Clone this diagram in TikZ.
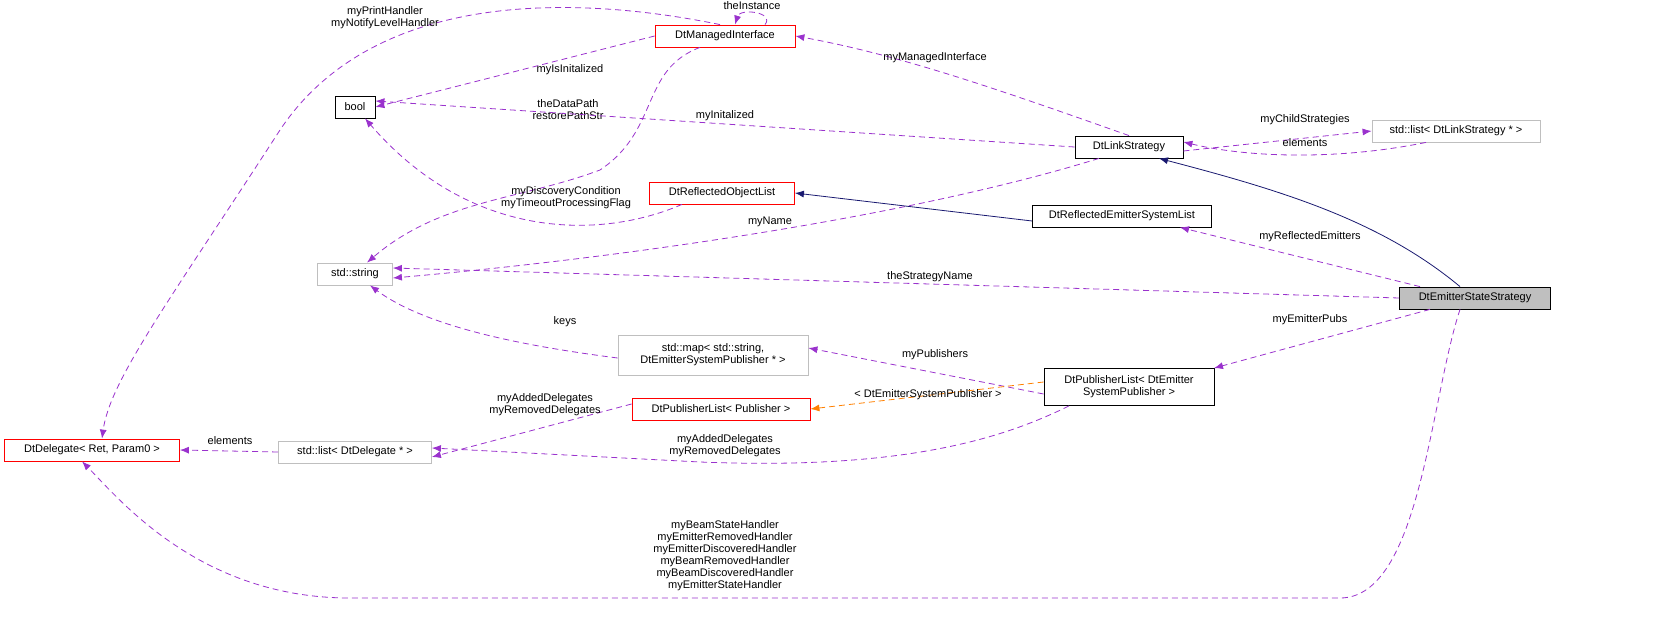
\documentclass[tikz,border=0pt]{standalone}
\usepackage{fontspec}
\setmainfont{Liberation Sans}
\usetikzlibrary{arrows.meta}
\definecolor{ep}{HTML}{9A32CD}
\definecolor{nv}{HTML}{191970}
\definecolor{gb}{HTML}{BFBFBF}
\begin{document}
\begin{tikzpicture}[x=1pt,y=-1pt,
  every node/.style={font=\fontsize{11}{12}\selectfont},
  box/.style={draw,line width=0.8pt,inner sep=2pt,minimum height=22pt,align=center},
  bk/.style={box,draw=black},
  rd/.style={box,draw=red},
  gr/.style={box,draw=gb},
  lb/.style={align=center,inner sep=0pt},
  use/.style={draw=ep,dashed,dash pattern=on 6pt off 4pt,line width=0.8pt,-{Latex[length=9pt,width=7pt]}},
  inh/.style={draw=nv,line width=0.8pt,-{Latex[length=9pt,width=7pt]}},
  tpl/.style={draw=orange,dashed,dash pattern=on 6pt off 4pt,line width=0.8pt,-{Latex[length=9pt,width=7pt]}}]
\useasboundingbox (0,0) rectangle (1672,644);
\node[rd,minimum width=140pt] (mi) at (725,36) {DtManagedInterface};
\node[bk,minimum width=40pt] (bool) at (355,107) {bool};
\node[bk,minimum width=108pt] (ls) at (1129,147) {DtLinkStrategy};
\node[gr,minimum width=168pt] (lls) at (1456,131) {std::list< DtLinkStrategy * >};
\node[rd,minimum width=145pt] (rol) at (722,193) {DtReflectedObjectList};
\node[bk,minimum width=179pt] (resl) at (1122,216) {DtReflectedEmitterSystemList};
\node[gr,minimum width=75pt] (str) at (355,274) {std::string};
\node[box,draw=black,fill=gb,minimum width=151pt] (ess) at (1475,298) {DtEmitterStateStrategy};
\node[gr,minimum width=190pt,minimum height=40pt] (map) at (713,355) {std::map< std::string,\\ DtEmitterSystemPublisher * >};
\node[bk,minimum width=170pt,minimum height=37pt] (pl) at (1129,387) {DtPublisherList< DtEmitter\\SystemPublisher >};
\node[rd,minimum width=178pt] (plp) at (721,409) {DtPublisherList< Publisher >};
\node[gr,minimum width=153pt] (ldd) at (355,452) {std::list< DtDelegate * >};
\node[rd,minimum width=175pt] (dd) at (92,450) {DtDelegate< Ret, Param0 >};

\draw[use] (ls.north) .. controls (1000,90) and (900,55) .. (mi.east);
\node[lb] at (935,58) {myManagedInterface};
\draw[use] ([xshift=40pt]mi.north) .. controls (775,12) and (740,8) .. ([xshift=10pt]mi.north);
\node[lb] at (752,6) {theInstance};
\draw[use] ([xshift=-5pt]mi.north) .. controls (600,0) and (380,-20) .. (280,130) .. controls (170,300) and (110,380) .. ([xshift=10pt]dd.north);
\node[lb] at (385,18) {myPrintHandler\\myNotifyLevelHandler};
\draw[use] (mi.west) -- (bool.east);
\node[lb] at (570,70) {myIsInitalized};
\draw[use] ([xshift=-25pt]mi.south) .. controls (640,70) and (660,130) .. (600,170) .. controls (520,200) and (440,200) .. ([xshift=12pt]str.north);
\node[lb] at (568,110) {theDataPath\\restorePathStr};
\draw[use] (ls.west) -- ([yshift=6pt]bool.east);
\node[lb] at (725,116) {myInitalized};
\draw[use] ([xshift=-40pt]rol.south) .. controls (600,240) and (470,240) .. ([xshift=10pt]bool.south);
\node[lb] at (566,198) {myDiscoveryCondition\\myTimeoutProcessingFlag};
\draw[use] ([xshift=-30pt]ls.south) .. controls (900,220) and (600,260) .. ([yshift=-4pt]str.east);
\node[lb] at (770,222) {myName};
\draw[use] ([yshift=-4pt]ls.east) -- (lls.west);
\node[lb] at (1305,120) {myChildStrategies};
\draw[use] ([xshift=-30pt]lls.south) .. controls (1340,160) and (1250,158) .. ([yshift=5pt]ls.east);
\node[lb] at (1305,143) {elements};
\draw[inh] ([xshift=-15pt]ess.north) .. controls (1380,220) and (1280,190) .. ([xshift=30pt]ls.south);
\draw[inh] ([yshift=-5pt]resl.west) -- (rol.east);
\draw[use] ([xshift=-55pt]ess.north) -- ([xshift=58pt]resl.south);
\node[lb] at (1310,237) {myReflectedEmitters};
\draw[use] (ess.west) -- ([yshift=6pt]str.east);
\node[lb] at (930,277) {theStrategyName};
\draw[use] ([xshift=-45pt]ess.south) -- ([xshift=85pt]pl.north);
\node[lb] at (1310,320) {myEmitterPubs};
\draw[use] ([xshift=-15pt]ess.south) .. controls (1430,400) and (1420,598) .. (1340,598) -- (350,598) .. controls (200,598) and (120,500) .. ([xshift=-10pt]dd.south);
\node[lb] at (725,556) {myBeamStateHandler\\myEmitterRemovedHandler\\myEmitterDiscoveredHandler\\myBeamRemovedHandler\\myBeamDiscoveredHandler\\myEmitterStateHandler};
\draw[use] ([yshift=-3pt]map.west) .. controls (540,348) and (430,330) .. ([xshift=15pt]str.south);
\node[lb] at (565,322) {keys};
\draw[use] ([yshift=-7pt]pl.west) -- ([yshift=7pt]map.east);
\node[lb] at (935,355) {myPublishers};
\draw[tpl] ([yshift=5pt]pl.west) -- (plp.east);
\node[lb] at (928,395) {< DtEmitterSystemPublisher >};
\draw[use] ([yshift=5pt]plp.west) -- ([yshift=-5pt]ldd.east);
\node[lb] at (545,405) {myAddedDelegates\\myRemovedDelegates};
\draw[use] ([xshift=-60pt]pl.south) .. controls (1000,440) and (900,470) .. (700,462) -- ([yshift=4pt]ldd.east);
\node[lb] at (725,446) {myAddedDelegates\\myRemovedDelegates};
\draw[use] (ldd.west) -- (dd.east);
\node[lb] at (230,441) {elements};
\end{tikzpicture}
\end{document}
